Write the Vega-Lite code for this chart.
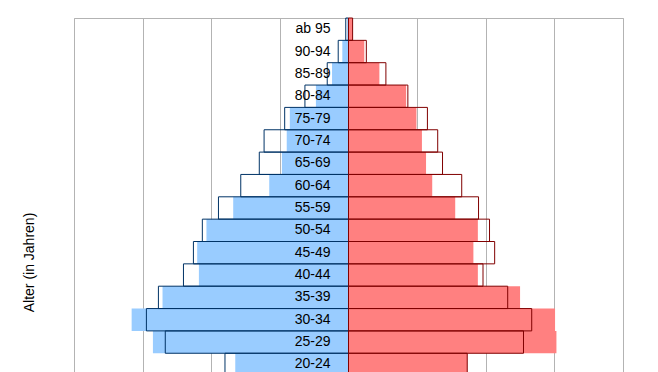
{
  "$schema": "https://vega.github.io/schema/vega-lite/v6.json",
  "autosize": "none",
  "padding": {"left": 74, "top": 18, "right": 35, "bottom": 0},
  "width": 549,
  "height": 447,
  "background": "white",
  "config": {
    "font": "Liberation Sans",
    "view": {"stroke": "#b3b3b3", "strokeWidth": 1}
  },
  "data": {
    "values": [
      {"alter": "ab 95", "geschlecht": "m", "reihe": "fill", "wert": -0.02},
      {"alter": "ab 95", "geschlecht": "m", "reihe": "outline", "wert": -0.04},
      {"alter": "ab 95", "geschlecht": "w", "reihe": "fill", "wert": 0.06},
      {"alter": "ab 95", "geschlecht": "w", "reihe": "outline", "wert": 0.06},
      {"alter": "90-94", "geschlecht": "m", "reihe": "fill", "wert": -0.09},
      {"alter": "90-94", "geschlecht": "m", "reihe": "outline", "wert": -0.15},
      {"alter": "90-94", "geschlecht": "w", "reihe": "fill", "wert": 0.23},
      {"alter": "90-94", "geschlecht": "w", "reihe": "outline", "wert": 0.26},
      {"alter": "85-89", "geschlecht": "m", "reihe": "fill", "wert": -0.24},
      {"alter": "85-89", "geschlecht": "m", "reihe": "outline", "wert": -0.31},
      {"alter": "85-89", "geschlecht": "w", "reihe": "fill", "wert": 0.45},
      {"alter": "85-89", "geschlecht": "w", "reihe": "outline", "wert": 0.545},
      {"alter": "80-84", "geschlecht": "m", "reihe": "fill", "wert": -0.475},
      {"alter": "80-84", "geschlecht": "m", "reihe": "outline", "wert": -0.635},
      {"alter": "80-84", "geschlecht": "w", "reihe": "fill", "wert": 0.84},
      {"alter": "80-84", "geschlecht": "w", "reihe": "outline", "wert": 0.865},
      {"alter": "75-79", "geschlecht": "m", "reihe": "fill", "wert": -0.855},
      {"alter": "75-79", "geschlecht": "m", "reihe": "outline", "wert": -0.93},
      {"alter": "75-79", "geschlecht": "w", "reihe": "fill", "wert": 0.99},
      {"alter": "75-79", "geschlecht": "w", "reihe": "outline", "wert": 1.15},
      {"alter": "70-74", "geschlecht": "m", "reihe": "fill", "wert": -0.9},
      {"alter": "70-74", "geschlecht": "m", "reihe": "outline", "wert": -1.23},
      {"alter": "70-74", "geschlecht": "w", "reihe": "fill", "wert": 1.07},
      {"alter": "70-74", "geschlecht": "w", "reihe": "outline", "wert": 1.3},
      {"alter": "65-69", "geschlecht": "m", "reihe": "fill", "wert": -0.97},
      {"alter": "65-69", "geschlecht": "m", "reihe": "outline", "wert": -1.3},
      {"alter": "65-69", "geschlecht": "w", "reihe": "fill", "wert": 1.13},
      {"alter": "65-69", "geschlecht": "w", "reihe": "outline", "wert": 1.37},
      {"alter": "60-64", "geschlecht": "m", "reihe": "fill", "wert": -1.155},
      {"alter": "60-64", "geschlecht": "m", "reihe": "outline", "wert": -1.57},
      {"alter": "60-64", "geschlecht": "w", "reihe": "fill", "wert": 1.22},
      {"alter": "60-64", "geschlecht": "w", "reihe": "outline", "wert": 1.65},
      {"alter": "55-59", "geschlecht": "m", "reihe": "fill", "wert": -1.68},
      {"alter": "55-59", "geschlecht": "m", "reihe": "outline", "wert": -1.895},
      {"alter": "55-59", "geschlecht": "w", "reihe": "fill", "wert": 1.555},
      {"alter": "55-59", "geschlecht": "w", "reihe": "outline", "wert": 1.895},
      {"alter": "50-54", "geschlecht": "m", "reihe": "fill", "wert": -2.07},
      {"alter": "50-54", "geschlecht": "m", "reihe": "outline", "wert": -2.13},
      {"alter": "50-54", "geschlecht": "w", "reihe": "fill", "wert": 1.885},
      {"alter": "50-54", "geschlecht": "w", "reihe": "outline", "wert": 2.055},
      {"alter": "45-49", "geschlecht": "m", "reihe": "fill", "wert": -2.205},
      {"alter": "45-49", "geschlecht": "m", "reihe": "outline", "wert": -2.26},
      {"alter": "45-49", "geschlecht": "w", "reihe": "fill", "wert": 1.82},
      {"alter": "45-49", "geschlecht": "w", "reihe": "outline", "wert": 2.13},
      {"alter": "40-44", "geschlecht": "m", "reihe": "fill", "wert": -2.18},
      {"alter": "40-44", "geschlecht": "m", "reihe": "outline", "wert": -2.405},
      {"alter": "40-44", "geschlecht": "w", "reihe": "fill", "wert": 1.885},
      {"alter": "40-44", "geschlecht": "w", "reihe": "outline", "wert": 1.96},
      {"alter": "35-39", "geschlecht": "m", "reihe": "fill", "wert": -2.71},
      {"alter": "35-39", "geschlecht": "m", "reihe": "outline", "wert": -2.77},
      {"alter": "35-39", "geschlecht": "w", "reihe": "fill", "wert": 2.5},
      {"alter": "35-39", "geschlecht": "w", "reihe": "outline", "wert": 2.32},
      {"alter": "30-34", "geschlecht": "m", "reihe": "fill", "wert": -3.16},
      {"alter": "30-34", "geschlecht": "m", "reihe": "outline", "wert": -2.945},
      {"alter": "30-34", "geschlecht": "w", "reihe": "fill", "wert": 3.01},
      {"alter": "30-34", "geschlecht": "w", "reihe": "outline", "wert": 2.67},
      {"alter": "25-29", "geschlecht": "m", "reihe": "fill", "wert": -2.85},
      {"alter": "25-29", "geschlecht": "m", "reihe": "outline", "wert": -2.67},
      {"alter": "25-29", "geschlecht": "w", "reihe": "fill", "wert": 3.03},
      {"alter": "25-29", "geschlecht": "w", "reihe": "outline", "wert": 2.55},
      {"alter": "20-24", "geschlecht": "m", "reihe": "fill", "wert": -1.65},
      {"alter": "20-24", "geschlecht": "m", "reihe": "outline", "wert": -1.8},
      {"alter": "20-24", "geschlecht": "w", "reihe": "fill", "wert": 1.73},
      {"alter": "20-24", "geschlecht": "w", "reihe": "outline", "wert": 1.73}
    ]
  },
  "encoding": {
    "y": {
      "field": "alter",
      "type": "nominal",
      "scale": {
        "domain": ["ab 95", "90-94", "85-89", "80-84", "75-79", "70-74", "65-69", "60-64", "55-59", "50-54", "45-49", "40-44", "35-39", "30-34", "25-29", "20-24", "15-19", "10-14", "5-9", "0-4"],
        "paddingInner": 0,
        "paddingOuter": 0
      },
      "axis": {
        "title": "Alter (in Jahren)",
        "labels": false,
        "ticks": false,
        "domain": false,
        "titleFontSize": 14,
        "titleFontWeight": "normal",
        "titleFont": "Liberation Sans",
        "titleColor": "#000000",
        "titlePadding": 38,
        "titleY": 244
      }
    }
  },
  "layer": [
    {
      "transform": [{"filter": "datum.reihe == 'fill'"}],
      "mark": {"type": "bar"},
      "encoding": {
        "x": {
          "field": "wert",
          "type": "quantitative",
          "stack": null,
          "scale": {"domain": [-4, 4], "nice": false},
          "axis": {
            "values": [-4, -3, -2, -1, 0, 1, 2, 3, 4],
            "grid": true,
            "gridColor": "#b3b3b3",
            "gridOpacity": 1,
            "labels": false,
            "ticks": false,
            "domain": false,
            "title": null
          }
        },
        "color": {
          "field": "geschlecht",
          "type": "nominal",
          "scale": {"domain": ["m", "w"], "range": ["#99ccff", "#ff8080"]},
          "legend": null
        }
      }
    },
    {
      "transform": [{"filter": "datum.reihe == 'outline'"}],
      "mark": {"type": "bar", "fill": "transparent", "strokeWidth": 1},
      "encoding": {
        "x": {"field": "wert", "type": "quantitative", "stack": null},
        "stroke": {
          "field": "geschlecht",
          "type": "nominal",
          "scale": {"domain": ["m", "w"], "range": ["#003366", "#800000"]},
          "legend": null
        }
      }
    },
    {
      "transform": [{"filter": "datum.reihe == 'fill' && datum.geschlecht == 'm'"}],
      "mark": {"type": "text", "align": "right", "baseline": "middle", "dx": -18, "fontSize": 14, "font": "Liberation Sans", "color": "#000000"},
      "encoding": {
        "x": {"datum": 0, "type": "quantitative"},
        "text": {"field": "alter", "type": "nominal"}
      }
    }
  ]
}
